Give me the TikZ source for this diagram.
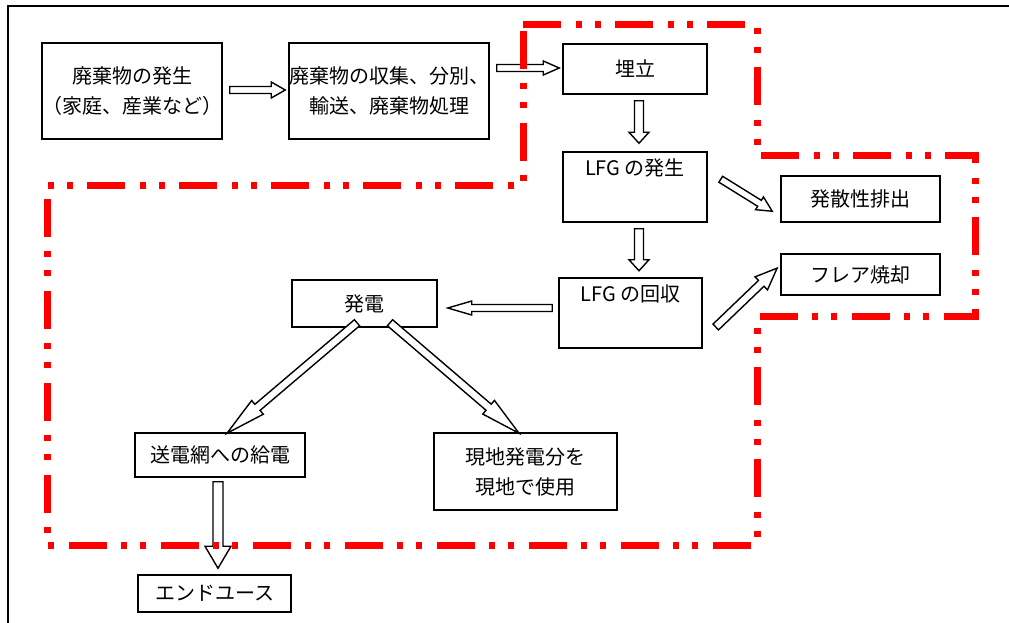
\documentclass[tikz,border=0pt]{standalone}
\usepackage{fontspec}
\setmainfont{Noto Sans CJK JP}
\usetikzlibrary{calc}
\tikzset{
  box/.style={draw=black, line width=1.5pt, inner sep=0pt, align=center,
              font=\fontsize{20}{30}\selectfont},
  blockarrow/.style={draw=black, line width=1.4pt, fill=white, line join=miter},
  redframe/.style={draw=red, line width=7pt, line cap=butt, line join=miter,
              dash pattern=on 38pt off 15pt on 6pt off 13pt on 6pt off 14pt},
  outerframe/.style={draw=black, line width=2pt}
}
% #1 start, #2 tip, #3 shaft half width, #4 head half width, #5 head length
\newcommand\barrow[5]{%
  \path let \p1=(#1), \p2=(#2) in \pgfextra{%
    \pgfmathsetmacro\baangtmp{atan2(\y2-\y1,\x2-\x1)}%
    \pgfmathsetmacro\balentmp{veclen(\x2-\x1,\y2-\y1)}%
    \xdef\baang{\baangtmp}\xdef\balen{\balentmp}\xdef\bax{\x1}\xdef\bay{\y1}};
  \draw[blockarrow, shift={(\bax,\bay)}, rotate=\baang]
    (0,-#3) -- ({\balen-#5},-#3) -- ({\balen-#5},-#4) -- (\balen,0)
    -- ({\balen-#5},#4) -- ({\balen-#5},#3) -- (0,#3) -- cycle;
}
\begin{document}
\begin{tikzpicture}[x=1pt,y=-1pt]
\useasboundingbox (0,0) rectangle (1009,623);
\draw[outerframe] (8,623) -- (8,6) -- (1009,6);

% boxes
\node[box, minimum width=180pt, minimum height=96pt] (b1) at (132,91) {廃棄物の発生\\（家庭、産業など）};
\node[box, minimum width=200pt, minimum height=96pt] (b2) at (389,91) {廃棄物の収集、分別、\\輸送、廃棄物処理};
\node[box, minimum width=144pt, minimum height=50pt] (land) at (635,69) {埋立};
\node[box, minimum width=144pt, minimum height=70pt] (gen) at (635,187) {LFG の発生\\\strut};
\node[box, minimum width=143pt, minimum height=70pt] (rec) at (630.5,313) {LFG の回収\\\strut};
\node[box, minimum width=159pt, minimum height=46pt] (emis) at (860.5,199) {発散性排出};
\node[box, minimum width=159pt, minimum height=41pt] (flare) at (860.5,274.5) {フレア焼却};
\node[box, minimum width=145pt, minimum height=47pt] (power) at (364.5,303.5) {発電};
\node[box, minimum width=170pt, minimum height=44pt] (grid) at (220,455) {送電網への給電};
\node[box, minimum width=183pt, minimum height=77pt] (local) at (525.5,471.5) {現地発電分を\\現地で使用};
\node[box, minimum width=153pt, minimum height=37pt] (end) at (214.5,593.5) {エンドユース};

% arrow end points
\coordinate (a1s) at ($(b1.east)+(7,-1)$);
\coordinate (a1e) at ($(b2.west)+(-3,-1)$);
\coordinate (a2s) at ($(b2.east |- land.west)+(7,-1)$);
\coordinate (a2e) at ($(land.west)+(-3,-1)$);
\coordinate (a3s) at ($(land.south)+(4,6)$);
\coordinate (a3e) at ($(gen.north)+(4,-8)$);
\coordinate (a4s) at ($(gen.south)+(4,6)$);
\coordinate (a4e) at ($(gen.south)+(4,48)$);
\coordinate (a5s) at ($(rec.west)+(-6,-5)$);
\coordinate (a5e) at ($(power.east |- a5s)+(10,0)$);
\coordinate (a6s) at ($(gen.north east)+(13,28)$);
\coordinate (a6e) at ($(emis.north west)+(-8,36)$);
\coordinate (a7s) at ($(rec.east)+(13,14)$);
\coordinate (a7e) at ($(flare.west)+(-3,-6.5)$);
\coordinate (a8s) at ($(power.south)+(-7.5,-5)$);
\coordinate (a8e) at ($(grid.north)+(7,1)$);
\coordinate (a9s) at ($(power.south)+(25.5,-5)$);
\coordinate (a9e) at ($(local.north)+(-6.5,1)$);
\coordinate (a10s) at ($(grid.south)+(-2,4)$);
\coordinate (a10e) at ($(end.north)+(3.5,-6)$);

\barrow{a1s}{a1e}{3.5}{8}{14}
\barrow{a2s}{a2e}{3.5}{7}{16}
\barrow{a3s}{a3e}{4.5}{10}{11}
\barrow{a4s}{a4e}{4.5}{10}{11}
\barrow{a5s}{a5e}{3.5}{7}{24}
\barrow{a6s}{a6e}{3.5}{7.5}{15}
\barrow{a7s}{a7e}{4}{9}{22}
\barrow{a8s}{a8e}{4}{9}{40}
\barrow{a9s}{a9e}{4}{9}{40}
\barrow{a10s}{a10e}{5}{13}{22}

% red dash-dot-dot boundary
\draw[redframe] (523,25) -- (757,25) -- (757,155) -- (975,155) -- (975,316)
  -- (757,316) -- (757,545) -- (47,545) -- (47,185) -- (523,185) -- cycle;
\end{tikzpicture}
\end{document}
